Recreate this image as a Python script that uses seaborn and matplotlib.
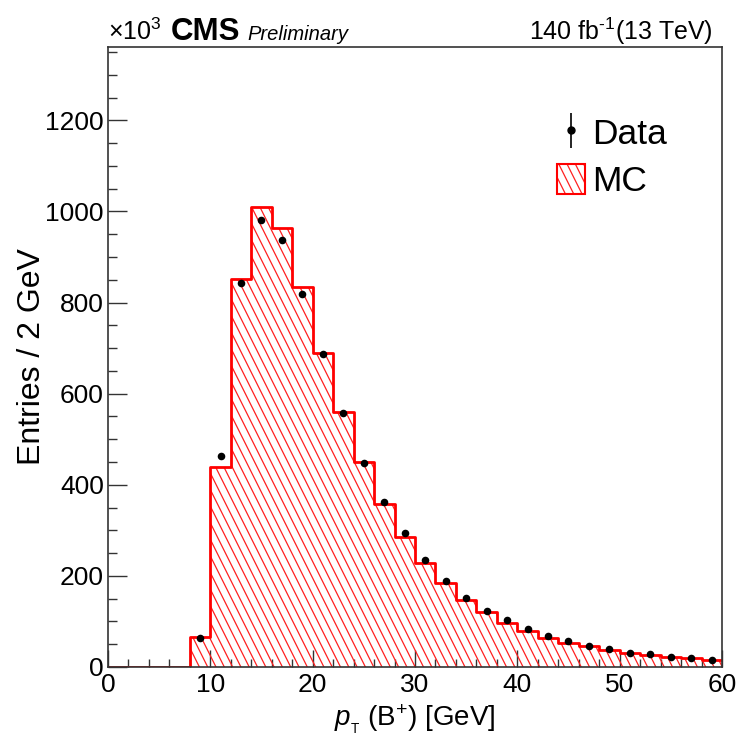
import numpy as np
import matplotlib
matplotlib.use("Agg")
import matplotlib.pyplot as plt
from matplotlib.patches import Rectangle
from matplotlib.collections import LineCollection
from matplotlib.legend_handler import HandlerBase
from matplotlib.transforms import IdentityTransform
from matplotlib.ticker import MultipleLocator
import seaborn as sns

# ---- data (units of 10^3 entries per 2 GeV) ----
bin_edges = list(range(0, 62, 2))
mc_values = [0, 0, 0, 0, 66, 440, 851, 1010, 964, 835, 689, 559, 449, 358, 286,
             228, 184, 147, 120, 97, 80, 64, 53, 45, 37, 31, 26, 23, 19, 16]
data_x = [9, 11, 13, 15, 17, 19, 21, 23, 25, 27, 29, 31, 33, 35, 37, 39, 41, 43,
          45, 47, 49, 51, 53, 55, 57, 59]
data_y = [64, 464, 844, 982, 938, 818, 686, 558, 448, 363, 295, 235, 188, 152,
          124, 103, 84, 69, 56, 47, 39, 31, 28, 23, 20, 16]
x_ticks = [0, 10, 20, 30, 40, 50, 60]
y_ticks = [0, 200, 400, 600, 800, 1000, 1200]

sns.set_style("ticks")
plt.rcParams["font.family"] = ["Liberation Sans", "DejaVu Sans"]
plt.rcParams["mathtext.fontset"] = "custom"
plt.rcParams["mathtext.rm"] = "Liberation Sans"
plt.rcParams["mathtext.it"] = "Liberation Sans:italic"
plt.rcParams["mathtext.bf"] = "Liberation Sans:bold"
for k in ["text.color", "axes.labelcolor", "xtick.color", "ytick.color"]:
    plt.rcParams[k] = "black"

HATCH_COLOR = "#ff2020"
HATCH_SLOPE = 2.0      # steep ROOT-style hatch (dy/dx)
HATCH_STEP = 8.3       # horizontal spacing in pixels

fig = plt.figure(figsize=(7.39, 7.40), dpi=100)
ax = fig.add_axes([0.14614, 0.09865, 0.83085, 0.83784])

centers = [(bin_edges[i] + bin_edges[i + 1]) / 2 for i in range(len(mc_values))]

# invisible filled region (used as clip for the hatch)
n_before = len(ax.collections)
sns.histplot(x=centers, weights=mc_values, bins=bin_edges, element="step",
             fill=True, color="red", facecolor="none", edgecolor="none",
             linewidth=0, ax=ax)
fill_coll = ax.collections[n_before]

# outline
sns.histplot(x=centers, weights=mc_values, bins=bin_edges, element="step",
             fill=False, color="red", linewidth=2.0, ax=ax)

# data points
sns.scatterplot(x=data_x, y=data_y, color="black", s=30, linewidth=0,
                zorder=5, ax=ax)

ax.set_xlim(0, 60)
ax.set_ylim(0, 1361)

# steep hatch lines, clipped to histogram area (pixel space)
W, H = 739, 740
segs = []
c = -H / HATCH_SLOPE
while c < W + H / HATCH_SLOPE:
    segs.append([(c, 0), (c - H / HATCH_SLOPE, H)])
    c += HATCH_STEP
hatch_lc = LineCollection(segs, colors=HATCH_COLOR, linewidths=0.9,
                          transform=IdentityTransform(), zorder=1.5)
ax.add_collection(hatch_lc, autolim=False)
hatch_lc.set_clip_path(fill_coll.get_paths()[0], ax.transData)

ax.set_xticks(x_ticks)
ax.set_yticks(y_ticks)
ax.xaxis.set_minor_locator(MultipleLocator(2))
ax.yaxis.set_minor_locator(MultipleLocator(50))
ax.tick_params(axis="both", which="both", direction="in", top=False, right=False,
               width=1.0, color="#333333")
ax.tick_params(axis="x", which="major", length=12, labelsize=19, pad=4)
ax.tick_params(axis="x", which="minor", length=6)
ax.tick_params(axis="y", which="major", length=14, labelsize=19, pad=3)
ax.tick_params(axis="y", which="minor", length=6.5)
for s in ax.spines.values():
    s.set_linewidth(1.2)
    s.set_color("#333333")

ax.set_xlabel(r"$p_{_{\mathrm{T}}}$ (B$^{+}$) [GeV]", fontsize=20)
ax.xaxis.set_label_coords(0.5, -0.058)
ax.set_ylabel("Entries / 2 GeV", fontsize=23)
ax.yaxis.set_label_coords(-0.10, 0.5)


class SteepHatchHandler(HandlerBase):
    def create_artists(self, legend, orig_handle, xdescent, ydescent,
                       width, height, fontsize, trans):
        rect = Rectangle((-xdescent, -ydescent), width, height,
                         facecolor="none", edgecolor="red", linewidth=1.5,
                         transform=trans)
        step = HATCH_STEP * 0.72
        lines = []
        c = -xdescent - height / HATCH_SLOPE
        while c < -xdescent + width + height / HATCH_SLOPE:
            lines.append([(c + height / HATCH_SLOPE, -ydescent), (c, -ydescent + height)])
            c += step
        lc = LineCollection(lines, colors=HATCH_COLOR, linewidths=0.9,
                            transform=trans)
        lc.set_clip_path(rect)
        return [lc, rect]


# legend
eb = ax.errorbar([np.nan], [np.nan], yerr=[1], fmt="o", color="black",
                 ms=5, elinewidth=1.2, capsize=0)
mc_proxy = Rectangle((0, 0), 1, 1)
ax.legend([eb, mc_proxy], ["Data", "MC"], loc="upper left",
          bbox_to_anchor=(0.7537, 0.842), bbox_transform=fig.transFigure,
          frameon=False, fontsize=25.5, handlelength=0.8, handleheight=0.9,
          handletextpad=0.2, labelspacing=0.38, borderpad=0, borderaxespad=0,
          handler_map={Rectangle: SteepHatchHandler()})

# header texts
fig.text(108 / 739, 1 - 40 / 740, r"$\times$10$^{3}$", fontsize=18, ha="left", va="baseline")
fig.text(171 / 739, 1 - 40 / 740, "CMS", fontsize=22.5, fontweight="bold", ha="left", va="baseline")
fig.text(247 / 739, 1 - 40 / 740, "Preliminary", fontsize=14.5, fontstyle="italic", ha="left", va="baseline")
fig.text(713 / 739, 1 - 40 / 740, r"140 fb$^{\text{-1}}$(13 TeV)", fontsize=18, ha="right", va="baseline")

fig.savefig("out.png", dpi=100)
